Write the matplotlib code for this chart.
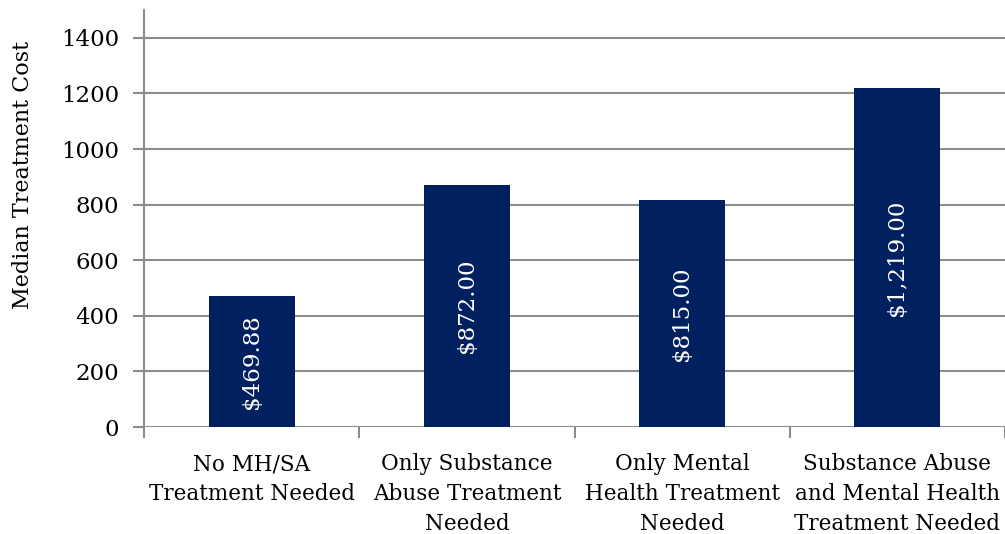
import numpy as np
import matplotlib
matplotlib.use("Agg")
import matplotlib.pyplot as plt

categories = ["No MH/SA\nTreatment Needed",
              "Only Substance\nAbuse Treatment\nNeeded",
              "Only Mental\nHealth Treatment\nNeeded",
              "Substance Abuse\nand Mental Health\nTreatment Needed"]
costs = [469.88, 872.00, 815.00, 1219.00]
yticks = [0, 200, 400, 600, 800, 1000, 1200, 1400]

plt.rcParams['font.family'] = ['DejaVu Serif']

fig = plt.figure(figsize=(10.05, 5.34), dpi=100)
ax = fig.add_axes([144/1005, 107/534, 1 - 144/1005, 417/534])

x = np.arange(len(costs))
bars = ax.bar(x, costs, width=0.4, color="#002060", zorder=3)

for xi, v in zip(x, costs):
    ax.text(xi, v / 2, "${:,.2f}".format(v), rotation=90, ha="center", va="center",
            color="white", fontsize=16.5, zorder=4)

ax.set_xlim(-0.5, len(costs) - 0.5)
ax.set_ylim(0, 1500)
ax.set_yticks(yticks)
ax.set_yticklabels([str(t) for t in yticks], fontsize=16.5)
for t in yticks:
    ax.axhline(t, color="#8c8c8c", lw=1.5, zorder=1)

ax.set_xticks(np.arange(-0.5, len(costs)), minor=False)
ax.set_xticklabels([])
ax.set_xticks(x, minor=True)
ax.set_xticklabels(categories, minor=True, fontsize=15.5, linespacing=1.45)
ax.tick_params(axis="x", which="minor", length=0, pad=19)
ax.tick_params(axis="x", which="major", length=8, width=1.5, color="#8c8c8c", direction="out")
ax.tick_params(axis="y", length=8, width=1.5, color="#8c8c8c", pad=10)

for s in ["top", "right", "bottom"]:
    ax.spines[s].set_visible(False)
ax.spines["left"].set_color("#8c8c8c")
ax.spines["left"].set_linewidth(1.5)

ax.set_ylabel("Median Treatment Cost", fontsize=16)
ax.yaxis.set_label_coords(-0.128, 0.604)

fig.savefig("out.png", dpi=100)
